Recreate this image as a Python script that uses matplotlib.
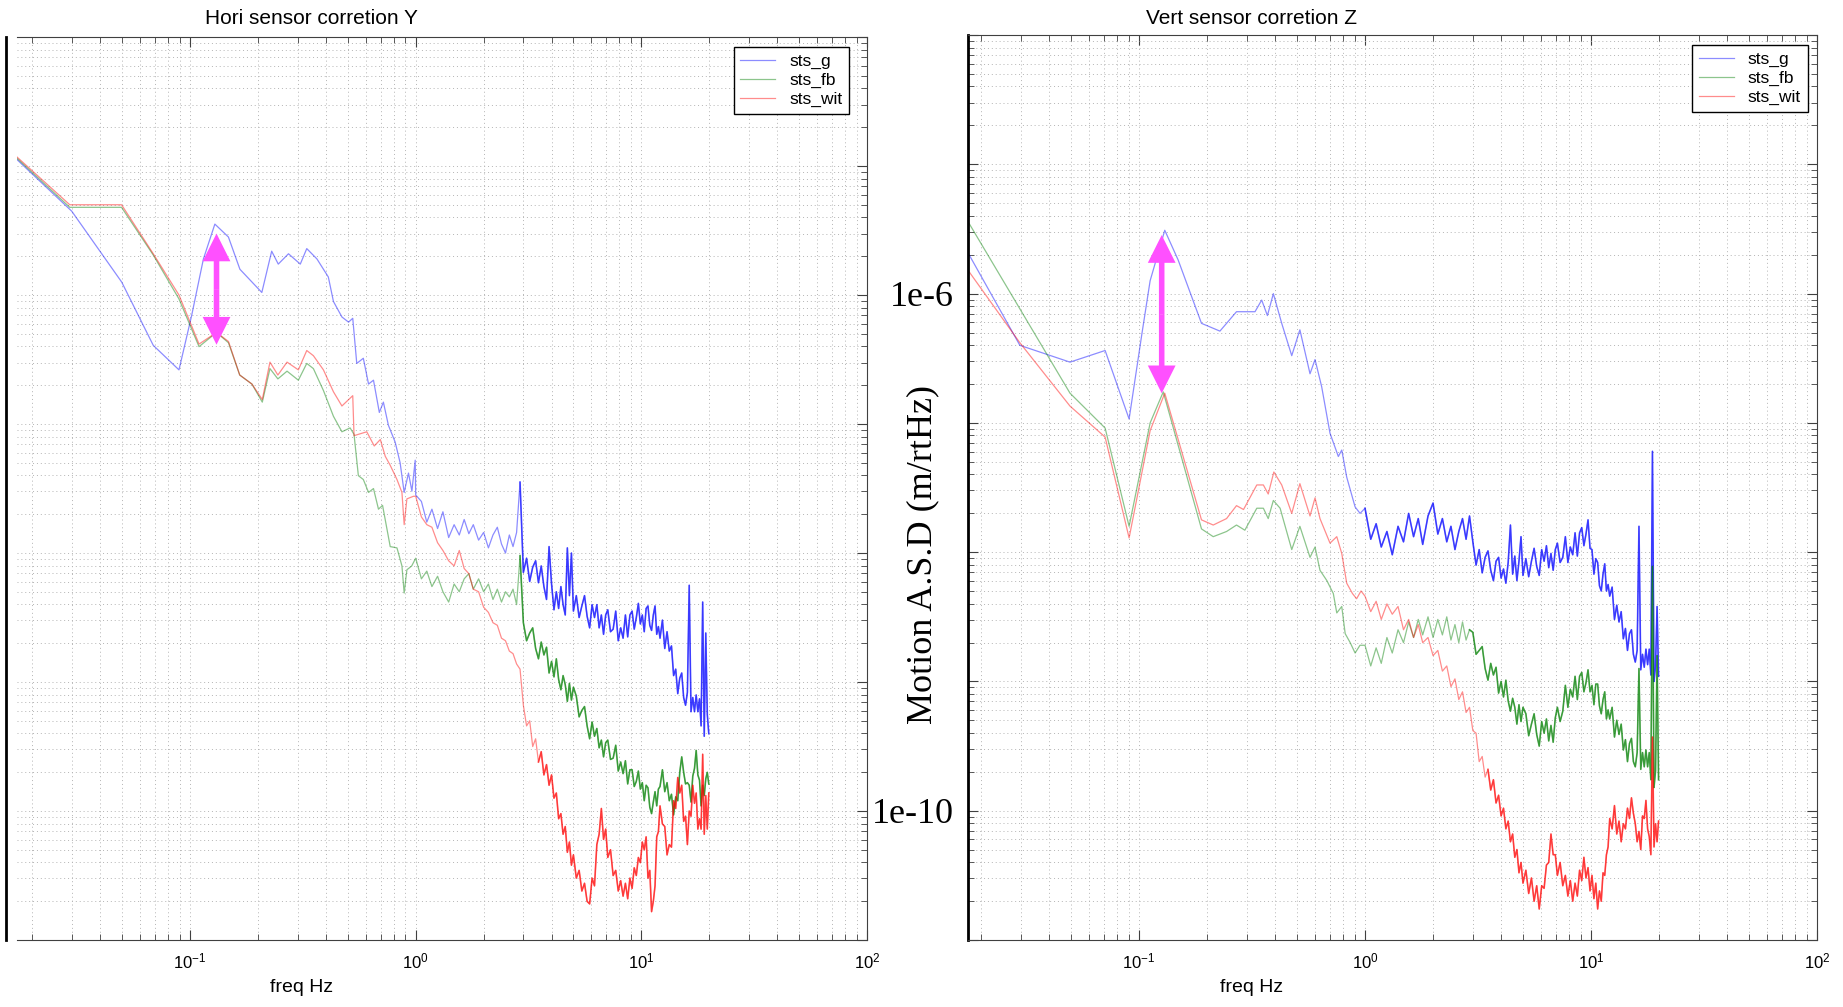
import numpy as np
from matplotlib import pyplot as plt
from matplotlib.ticker import LogLocator, NullFormatter, FuncFormatter

plt.rcParams['font.family'] = 'Liberation Sans'
plt.rcParams['mathtext.fontset'] = 'custom'
plt.rcParams['mathtext.rm'] = 'Liberation Sans'

# ASD values are kept as log10(m/rtHz)
# frequency bins above 1 Hz, shared by every sensor (Hz)
hf_freq = [
    1.0, 1.06, 1.12, 1.18, 1.25, 1.32, 1.4, 1.48, 1.56, 1.64, 1.72, 1.8, 1.9, 2.0, 2.1, 2.2, 2.3, 2.4, 2.5, 2.6, 2.7, 2.8,
    2.9, 3.0, 3.1, 3.2, 3.3, 3.4, 3.5, 3.6, 3.7, 3.8, 3.9, 4.0, 4.1, 4.2, 4.3, 4.4, 4.5, 4.6, 4.7, 4.8, 4.9, 5.0,
    5.15, 5.3, 5.45, 5.6, 5.75, 5.9, 6.05, 6.2, 6.35, 6.5, 6.65, 6.8, 6.95, 7.1,
    7.3, 7.5, 7.7, 7.9, 8.1, 8.3, 8.5, 8.7, 8.9, 9.1, 9.3, 9.5, 9.7, 9.9, 10.1, 10.3, 10.5, 10.7, 10.9, 11.1, 11.3, 11.5, 11.7, 11.9, 12.1,
    12.4, 12.7, 13.0, 13.3, 13.6, 13.9, 14.2, 14.5, 14.8, 15.1, 15.4, 15.7, 16.0, 16.3, 16.6, 16.9, 17.2, 17.5, 17.8, 18.1, 18.4, 18.7, 19.0, 19.3, 19.6, 19.9,
]

# --- horizontal sensor (Y), below 1 Hz: (freq, log10 asd)
hori_g_lo = [
    (0.0171, -4.95), (0.0299, -5.35), (0.0498, -5.90), (0.0687, -6.39), (0.0893, -6.58),
    (0.1016, -6.16), (0.1146, -5.72), (0.1288, -5.45), (0.1479, -5.55), (0.1663, -5.80),
    (0.208, -5.98), (0.230, -5.66), (0.246, -5.76), (0.273, -5.68), (0.308, -5.76),
    (0.329, -5.64), (0.365, -5.72), (0.410, -5.86), (0.432, -6.05), (0.471, -6.17),
    (0.504, -6.21), (0.526, -6.18), (0.548, -6.53), (0.586, -6.49), (0.618, -6.69),
    (0.650, -6.66), (0.690, -6.91), (0.719, -6.83), (0.757, -7.01), (0.811, -7.14),
    (0.853, -7.30), (0.889, -7.53), (0.929, -7.38), (0.962, -7.52), (0.995, -7.28),
]
hori_fb_lo = [
    (0.0171, -4.94), (0.0293, -5.32), (0.0497, -5.32), (0.0687, -5.69), (0.0893, -6.03),
    (0.1096, -6.40), (0.131, -6.29), (0.148, -6.37), (0.166, -6.62), (0.188, -6.69),
    (0.209, -6.83), (0.226, -6.57), (0.245, -6.65), (0.269, -6.59), (0.302, -6.66),
    (0.329, -6.53), (0.352, -6.57), (0.390, -6.74), (0.432, -6.94), (0.471, -7.06),
    (0.512, -7.03), (0.533, -7.08), (0.557, -7.40), (0.586, -7.43), (0.618, -7.53),
    (0.650, -7.50), (0.684, -7.66), (0.713, -7.63), (0.771, -7.95), (0.826, -7.96),
    (0.869, -8.10), (0.889, -8.31), (0.914, -8.13), (0.960, -8.10),
]
hori_wit_lo = [
    (0.0171, -4.93), (0.0293, -5.30), (0.0497, -5.30), (0.0687, -5.68), (0.0893, -6.00),
    (0.1096, -6.38), (0.131, -6.29), (0.148, -6.36), (0.166, -6.62), (0.188, -6.69),
    (0.209, -6.81), (0.226, -6.52), (0.245, -6.62), (0.269, -6.52), (0.302, -6.58),
    (0.329, -6.43), (0.352, -6.47), (0.390, -6.58), (0.432, -6.75), (0.471, -6.86),
    (0.512, -6.80), (0.526, -6.78), (0.533, -7.09), (0.607, -7.06), (0.655, -7.17),
    (0.697, -7.12), (0.733, -7.25), (0.771, -7.32), (0.826, -7.43), (0.869, -7.53),
    (0.889, -7.78), (0.914, -7.58), (0.977, -7.56),
]

# --- horizontal sensor (Y), on hf_freq
hori_g_hf = [
    -7.55, -7.60, -7.76, -7.66, -7.81, -7.68, -7.88, -7.78, -7.86, -7.74, -7.85, -7.78, -7.90, -7.84, -7.96, -7.86, -7.80, -7.93, -8.00, -7.86, -7.95, -7.84,
    -7.45, -8.15, -8.04, -8.22, -8.11, -8.06, -8.23, -8.10, -8.26, -8.36, -7.95, -8.24, -8.44, -8.30, -8.43, -8.26, -8.40, -8.48, -7.96, -8.33, -8.00, -8.45,
    -8.33, -8.50, -8.41, -8.33, -8.49, -8.58, -8.40, -8.50, -8.40, -8.58, -8.48, -8.63, -8.48, -8.44,
    -8.61, -8.59, -8.45, -8.68, -8.58, -8.66, -8.48, -8.65, -8.48, -8.45, -8.59, -8.50, -8.39, -8.55, -8.48, -8.61, -8.43, -8.41, -8.56, -8.60, -8.48, -8.41, -8.63, -8.57, -8.66,
    -8.52, -8.74, -8.61, -8.76, -8.72, -8.95, -8.90, -9.09, -8.97, -8.93, -9.12, -9.18, -9.08, -8.25, -9.23, -9.12, -9.23, -9.10, -9.23, -9.13, -9.34, -8.38, -9.42, -8.62, -9.25, -9.40,
]
hori_fb_hf = [
    -8.04, -8.20, -8.14, -8.26, -8.18, -8.30, -8.38, -8.24, -8.30, -8.20, -8.16, -8.28, -8.20, -8.30, -8.24, -8.36, -8.28, -8.38, -8.30, -8.34, -8.28, -8.40,
    -8.02, -8.54, -8.68, -8.62, -8.58, -8.74, -8.82, -8.69, -8.79, -8.73, -8.93, -8.84, -8.96, -8.82, -8.98, -9.06, -8.95, -9.02, -9.15, -9.01, -9.14, -9.04,
    -9.11, -9.27, -9.22, -9.19, -9.34, -9.44, -9.31, -9.42, -9.36, -9.51, -9.45, -9.58, -9.47, -9.45,
    -9.60, -9.59, -9.49, -9.69, -9.62, -9.71, -9.61, -9.79, -9.68, -9.68, -9.81, -9.77, -9.69, -9.83, -9.78, -9.92, -9.80, -9.82, -9.97, -10.02, -9.93, -9.85, -9.96, -9.83, -9.81,
    -9.68, -9.85, -9.78, -9.92, -9.87, -10.03, -9.89, -9.92, -9.70, -9.58, -9.70, -9.79, -9.78, -9.80, -9.93, -9.73, -9.67, -9.53, -9.72, -9.76, -9.96, -9.80, -9.88, -9.75, -9.70, -9.79,
]
hori_wit_hf = [
    -7.56, -7.72, -7.78, -7.80, -7.92, -7.98, -8.06, -8.10, -7.98, -8.12, -8.16, -8.28, -8.30, -8.42, -8.46, -8.54, -8.56, -8.66, -8.68, -8.76, -8.78, -8.86,
    -8.90, -9.18, -9.34, -9.30, -9.50, -9.44, -9.62, -9.54, -9.72, -9.64, -9.80, -9.72, -9.90, -9.86, -10.06, -10.02, -10.18, -10.12, -10.32, -10.24, -10.42, -10.34,
    -10.52, -10.46, -10.62, -10.56, -10.70, -10.72, -10.52, -10.58, -10.26, -10.18, -9.98, -10.22, -10.14, -10.36,
    -10.30, -10.50, -10.46, -10.62, -10.54, -10.66, -10.56, -10.68, -10.52, -10.60, -10.44, -10.50, -10.36, -10.40, -10.24, -10.30, -10.20, -10.52, -10.46, -10.78, -10.70, -10.58, -10.20, -10.16, -9.96,
    -10.10, -10.12, -10.34, -10.26, -10.28, -9.92, -9.98, -9.74, -9.86, -9.80, -10.08, -10.04, -10.26, -10.00, -10.04, -9.80, -9.94, -9.86, -10.14, -10.06, -10.14, -9.56, -10.18, -9.88, -10.14, -9.86,
]

# --- vertical sensor (Z), below 1 Hz: (freq, log10 asd)
vert_g_lo = [
    (0.0172, -5.66), (0.0297, -6.40), (0.0495, -6.53), (0.0708, -6.44), (0.0904, -6.97),
    (0.103, -6.31), (0.112, -5.90), (0.130, -5.51), (0.149, -5.74), (0.189, -6.23),
    (0.228, -6.29), (0.270, -6.14), (0.326, -6.14), (0.349, -6.05), (0.370, -6.17),
    (0.393, -6.00), (0.428, -6.23), (0.474, -6.48), (0.515, -6.28), (0.571, -6.62),
    (0.601, -6.51), (0.643, -6.72), (0.700, -7.08), (0.762, -7.26), (0.789, -7.21),
    (0.830, -7.42), (0.904, -7.65), (0.951, -7.70),
]
vert_fb_lo = [
    (0.0172, -5.42), (0.0495, -6.77), (0.0708, -7.04), (0.0904, -7.80), (0.112, -7.00),
    (0.128, -6.76), (0.189, -7.82), (0.213, -7.88), (0.244, -7.84), (0.270, -7.79),
    (0.294, -7.83), (0.332, -7.66), (0.355, -7.66), (0.373, -7.74), (0.393, -7.60),
    (0.421, -7.66), (0.474, -7.98), (0.515, -7.80), (0.571, -8.04), (0.601, -7.96),
    (0.632, -8.14), (0.678, -8.22), (0.724, -8.32), (0.750, -8.47), (0.789, -8.42),
    (0.817, -8.63), (0.860, -8.70), (0.904, -8.78), (0.950, -8.72),
]
vert_wit_lo = [
    (0.0172, -5.80), (0.0297, -6.38), (0.0495, -6.87), (0.0708, -7.11), (0.0904, -7.89),
    (0.112, -7.06), (0.130, -6.77), (0.189, -7.75), (0.213, -7.79), (0.244, -7.74),
    (0.270, -7.64), (0.290, -7.67), (0.332, -7.48), (0.355, -7.48), (0.373, -7.55),
    (0.395, -7.38), (0.428, -7.48), (0.474, -7.70), (0.515, -7.47), (0.571, -7.72),
    (0.601, -7.58), (0.632, -7.74), (0.700, -7.93), (0.750, -7.88), (0.789, -8.01),
    (0.830, -8.24), (0.880, -8.32), (0.918, -8.36), (0.960, -8.30),
]

# --- vertical sensor (Z), on hf_freq
vert_g_hf = [
    -7.66, -7.90, -7.78, -7.96, -7.84, -8.02, -7.80, -7.92, -7.70, -7.88, -7.74, -7.94, -7.72, -7.62, -7.86, -7.74, -7.92, -7.80, -7.98, -7.84, -7.74, -7.90,
    -7.72, -7.92, -8.10, -7.98, -8.16, -8.04, -7.99, -8.14, -8.22, -8.07, -8.04, -8.20, -8.13, -8.24, -8.08, -7.79, -8.17, -8.03, -8.22, -8.07, -7.88, -8.18,
    -8.05, -8.19, -8.07, -7.97, -8.11, -8.18, -7.98, -8.07, -7.95, -8.12, -8.01, -8.14, -7.98, -7.93,
    -8.08, -8.04, -7.88, -8.08, -7.96, -8.02, -7.85, -8.03, -7.85, -7.81, -7.95, -7.86, -7.75, -7.97, -7.98, -8.17, -8.05, -8.08, -8.26, -8.30, -8.17, -8.09, -8.30, -8.25, -8.34,
    -8.27, -8.52, -8.41, -8.54, -8.46, -8.67, -8.59, -8.76, -8.63, -8.60, -8.79, -8.85, -8.76, -7.80, -8.91, -8.79, -8.89, -8.75, -8.87, -8.75, -8.95, -7.22, -9.00, -8.88, -8.42, -8.96,
]
vert_fb_hf = [
    -8.72, -8.88, -8.74, -8.86, -8.66, -8.78, -8.60, -8.70, -8.54, -8.66, -8.52, -8.64, -8.50, -8.66, -8.52, -8.64, -8.50, -8.68, -8.56, -8.70, -8.54, -8.68,
    -8.60, -8.62, -8.79, -8.76, -8.73, -8.90, -8.99, -8.86, -8.95, -8.89, -9.09, -9.00, -9.12, -8.99, -9.15, -9.23, -9.13, -9.20, -9.33, -9.18, -9.31, -9.20,
    -9.25, -9.42, -9.33, -9.25, -9.41, -9.50, -9.31, -9.40, -9.29, -9.46, -9.34, -9.47, -9.28, -9.20,
    -9.31, -9.23, -9.03, -9.20, -9.06, -9.12, -8.96, -9.14, -8.96, -8.93, -9.08, -9.01, -8.91, -9.08, -9.03, -9.18, -9.02, -9.02, -9.19, -9.25, -9.14, -9.08, -9.29, -9.22, -9.29,
    -9.20, -9.43, -9.30, -9.41, -9.33, -9.53, -9.45, -9.62, -9.48, -9.44, -9.62, -9.66, -9.55, -8.90, -9.68, -9.55, -9.66, -9.53, -9.66, -9.55, -9.76, -8.11, -9.82, -9.69, -8.80, -9.76,
]
vert_wit_hf = [
    -8.34, -8.46, -8.38, -8.52, -8.40, -8.48, -8.42, -8.60, -8.52, -8.66, -8.56, -8.70, -8.66, -8.80, -8.76, -8.92, -8.88, -9.04, -8.98, -9.14, -9.08, -9.24,
    -9.20, -9.38, -9.40, -9.62, -9.58, -9.74, -9.68, -9.84, -9.76, -9.94, -9.88, -10.04, -9.98, -10.14, -10.08, -10.24, -10.18, -10.36, -10.30, -10.48, -10.40, -10.56,
    -10.46, -10.64, -10.52, -10.70, -10.58, -10.76, -10.58, -10.60, -10.42, -10.40, -10.18, -10.34, -10.34, -10.50,
    -10.40, -10.58, -10.50, -10.66, -10.54, -10.70, -10.56, -10.66, -10.46, -10.54, -10.36, -10.52, -10.44, -10.62, -10.50, -10.68, -10.56, -10.76, -10.62, -10.70, -10.48, -10.50, -10.34, -10.28, -10.06,
    -10.14, -9.96, -10.18, -10.08, -10.24, -10.10, -10.14, -9.98, -10.06, -9.90, -10.02, -10.10, -10.24, -10.16, -10.30, -10.04, -10.06, -9.92, -10.14, -10.20, -10.34, -9.43, -10.28, -10.10, -10.24, -10.08,
]

# double arrows marking the 0.13 Hz correction: (freq, log10 bottom, log10 top)
hori_arrow = (0.131, -6.385, -5.523)
vert_arrow = (0.126, -6.771, -5.547)

labels = ['sts_g', 'sts_fb', 'sts_wit']
colors = ['#0000ff', '#007f00', '#ff0000']
ytick_text = {-6: '1e-6', -10: '1e-10'}


def build(lo, hf):
    f = np.array([p[0] for p in lo] + hf_freq)
    a = 10.0 ** np.array([p[1] for p in lo] + hf)
    return f, a


def style_axes(ax, xmin):
    ax.set_xscale('log')
    ax.set_yscale('log')
    ax.set_xlim(xmin, 100)
    ax.set_ylim(1e-11, 1e-4)
    for axis in (ax.xaxis, ax.yaxis):
        axis.set_major_locator(LogLocator(base=10, numticks=20))
        axis.set_minor_locator(LogLocator(base=10, subs=np.arange(2, 10), numticks=20))
        axis.set_minor_formatter(NullFormatter())
    ax.grid(True, which='both', linestyle=(0, (1, 3)), linewidth=0.7, color='#b4b4b4')
    ax.set_axisbelow(True)
    ax.tick_params(which='both', direction='in', top=True, right=True, color='#404040')
    ax.tick_params(which='major', length=7, width=0.8, labelsize=12, pad=8)
    ax.tick_params(which='minor', length=4, width=0.6)
    for s in ax.spines.values():
        s.set_color('#404040')
        s.set_linewidth(0.8)


def draw(ax, curves, dense_from):
    for (lo, hf), color, label, fmin in zip(curves, colors, labels, dense_from):
        f, a = build(lo, hf)
        ax.plot(f, a, color=color, lw=0.9, alpha=0.45, label=label)
        # the noisy high-frequency part reads much denser
        m = f >= fmin
        ax.plot(f[m], a[m], color=color, lw=1.2, alpha=0.6)


def double_arrow(ax, arrow):
    f, lo, hi = arrow
    mid = 10 ** ((lo + hi) / 2)
    for end in (10 ** hi, 10 ** lo):
        ax.annotate('', xy=(f, end), xytext=(f, mid),
                    arrowprops=dict(arrowstyle='simple,head_length=1.0,head_width=1.0,tail_width=0.2',
                                    mutation_scale=20, color='#ff50ff', lw=0,
                                    shrinkA=0, shrinkB=0))


def add_legend(ax, x):
    leg = ax.legend(loc='upper right', bbox_to_anchor=(x, 0.989), fontsize=12.5,
                    frameon=True, fancybox=False, edgecolor='black', framealpha=1,
                    borderpad=0.4, labelspacing=0.22, handlelength=2.0,
                    handletextpad=0.8, borderaxespad=0)
    leg.get_frame().set_linewidth(1.0)


fig = plt.figure(figsize=(18.43, 10.07), dpi=100)
ax_h = fig.add_axes([0.00922, 0.0665, 0.4612, 0.8967])
ax_v = fig.add_axes([0.5252, 0.0665, 0.4607, 0.8987])

# horizontal panel
style_axes(ax_h, 0.0171)
draw(ax_h, [(hori_g_lo, hori_g_hf), (hori_fb_lo, hori_fb_hf), (hori_wit_lo, hori_wit_hf)],
     [2.9, 2.9, 3.5])
double_arrow(ax_h, hori_arrow)
add_legend(ax_h, 0.979)
ax_h.tick_params(which='both', left=False, labelleft=False)
ax_h.spines['left'].set_position(('outward', 8))
ax_h.spines['left'].set_color('black')
ax_h.spines['left'].set_linewidth(2.0)

# vertical panel
style_axes(ax_v, 0.0175)
draw(ax_v, [(vert_g_lo, vert_g_hf), (vert_fb_lo, vert_fb_hf), (vert_wit_lo, vert_wit_hf)],
     [1.0, 2.9, 3.5])
double_arrow(ax_v, vert_arrow)
add_legend(ax_v, 0.989)
ax_v.spines['left'].set_color('black')
ax_v.spines['left'].set_linewidth(2.0)
ax_v.yaxis.set_major_formatter(FuncFormatter(
    lambda v, pos: ytick_text.get(int(round(np.log10(v))), '')))
for t in ax_v.get_yticklabels():
    t.set_fontfamily('Liberation Serif')
    t.set_fontsize(26)
ax_v.tick_params(axis='y', which='major', pad=10)

fig.text(311 / 1843, 1 - 18 / 1007, 'Hori sensor corretion Y', ha='center', va='center', fontsize=15)
fig.text(1252 / 1843, 1 - 18 / 1007, 'Vert sensor corretion Z', ha='center', va='center', fontsize=15)
fig.text(302 / 1843, 1 - 988 / 1007, 'freq Hz', ha='center', va='center', fontsize=14)
fig.text(1252 / 1843, 1 - 988 / 1007, 'freq Hz', ha='center', va='center', fontsize=14)
fig.text(923 / 1843, 1 - 555 / 1007, 'Motion A.S.D (m/rtHz)', rotation=90,
         ha='center', va='center', fontsize=26, family='Liberation Serif')

fig.savefig('out.png', dpi=100)
